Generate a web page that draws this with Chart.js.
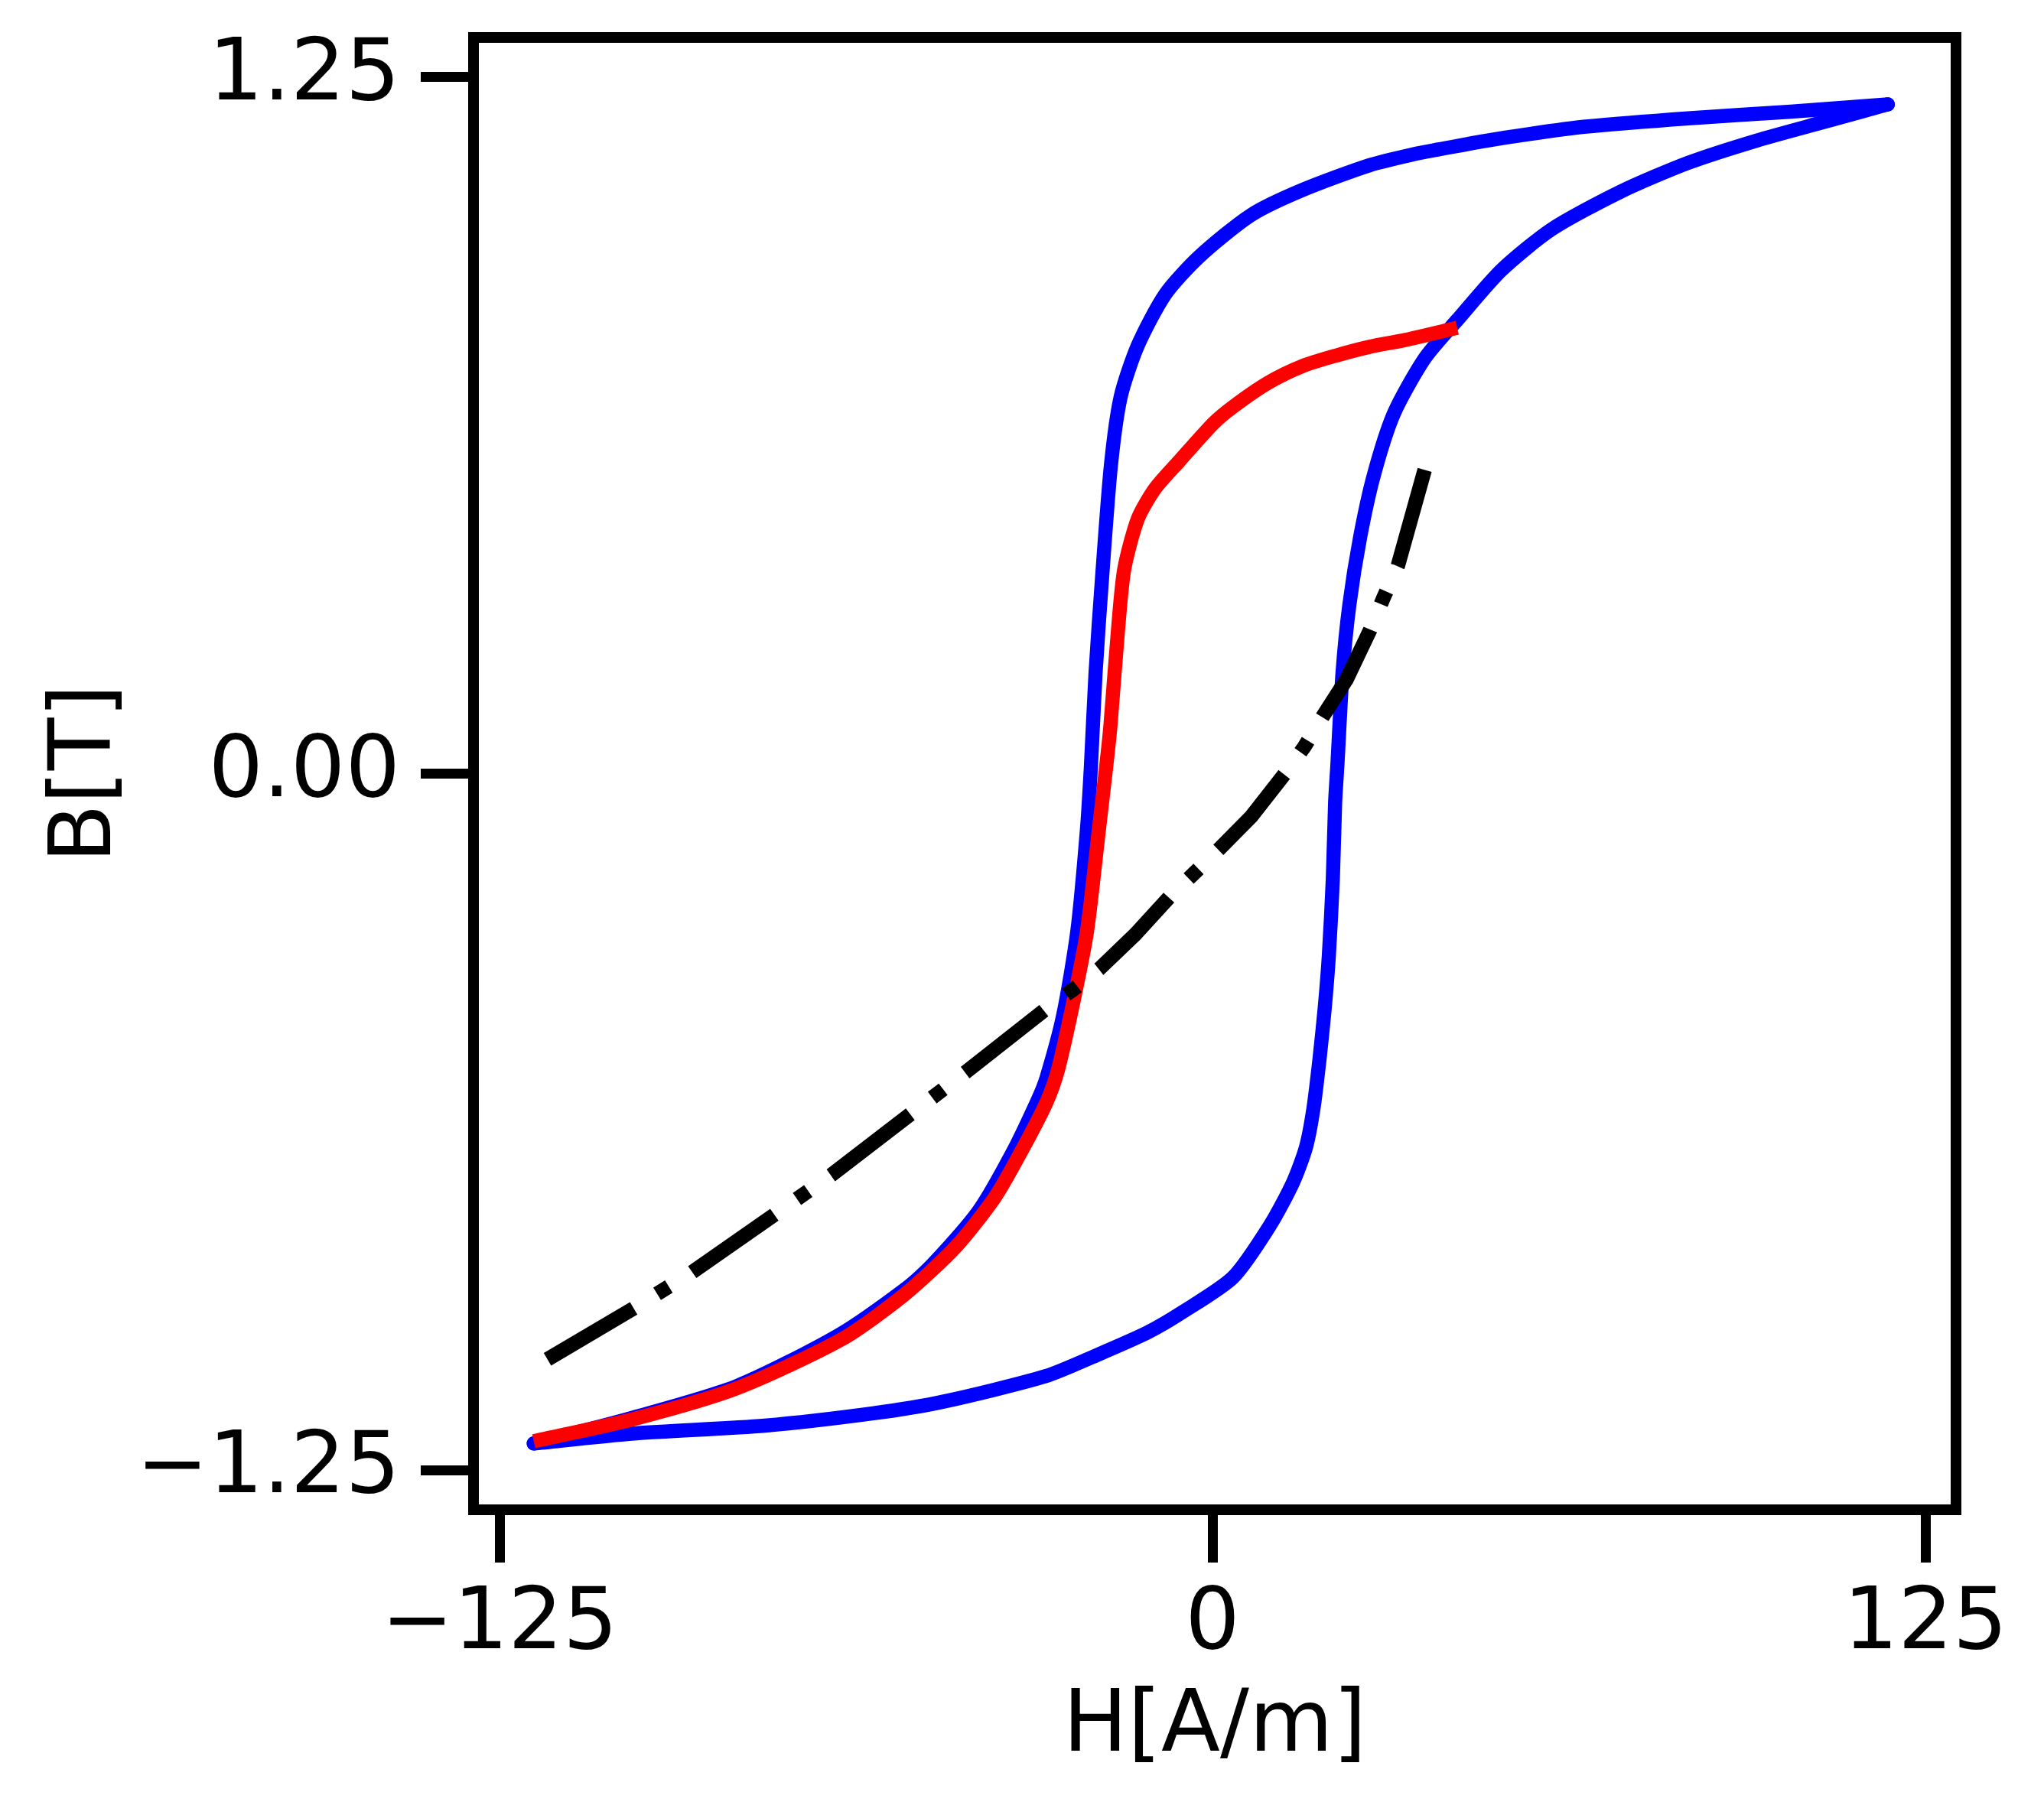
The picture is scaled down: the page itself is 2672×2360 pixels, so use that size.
<!DOCTYPE html>
<html>
<head>
<meta charset="utf-8">
<script src="https://cdn.jsdelivr.net/npm/chart.js@4/dist/chart.umd.min.js"></script>
<style>
  html, body { margin: 0; padding: 0; background: #fff; }
  #wrap { width: 2672px; height: 2360px; }
</style>
</head>
<body>
<div id="wrap"><canvas id="loop" width="2672" height="2360"></canvas></div>
<script>
// hysteresis loop: H[A/m] vs B[T]

// outer loop (blue), rising branch
const blueUpH = [-119.0, -101.4, -78.5, -59.5, -47.2, -29.2, -20.4, -11.4, -5.2, 3.6, 10.0, 14.1, 16.4, 17.7, 18.8, 19.7, 20.4, 21.1, 21.5, 21.9, 22.8, 24.0, 25.9, 28.3, 31.8, 37.2, 43.0, 50.6, 59.5, 71.5, 83.4, 95.4, 107.4, 118.4];
const blueUpB = [-1.202, -1.184, -1.170, -1.148, -1.127, -1.081, -1.044, -1.003, -0.966, -0.904, -0.812, -0.734, -0.670, -0.601, -0.509, -0.418, -0.327, -0.189, -0.052, 0.016, 0.181, 0.303, 0.425, 0.536, 0.646, 0.745, 0.815, 0.903, 0.977, 1.044, 1.096, 1.136, 1.170, 1.201];
// outer loop (blue), falling branch
const blueDownH = [118.4, 101.4, 83.4, 65.5, 55.7, 47.5, 39.6, 35.5, 27.6, 15.7, 6.7, -2.3, -8.3, -13.1, -16.1, -17.8, -19.3, -20.5, -21.3, -22.0, -23.7, -26.2, -29.1, -30.6, -35.1, -41.0, -49.0, -53.5, -65.6, -83.4, -101.4, -119.0];
const blueDownB = [1.201, 1.188, 1.176, 1.161, 1.148, 1.135, 1.120, 1.112, 1.092, 1.047, 1.002, 0.928, 0.860, 0.768, 0.676, 0.554, 0.360, 0.181, 0.016, -0.099, -0.283, -0.435, -0.546, -0.585, -0.681, -0.785, -0.880, -0.922, -1.008, -1.099, -1.155, -1.202];

// inner branch (red)
const redH = [-119.0, -101.4, -83.4, -65.0, -53.9, -44.9, -38.2, -33.8, -29.2, -27.1, -24.3, -22.0, -19.9, -18.6, -17.9, -16.7, -15.5, -13.1, -10.1, -5.9, 0.1, 3.7, 9.7, 15.7, 21.6, 27.6, 33.7, 42.9];
const redB = [-1.198, -1.158, -1.103, -1.015, -0.934, -0.848, -0.761, -0.683, -0.592, -0.532, -0.405, -0.283, -0.099, 0.016, 0.085, 0.241, 0.365, 0.457, 0.511, 0.560, 0.628, 0.659, 0.701, 0.731, 0.750, 0.766, 0.778, 0.800];

// dash-dot curve (black)
const blackH = [-116.6, -101.4, -91.3, -76.6, -66.8, -52.7, -43.3, -29.4, -24.5, -19.8, -13.5, -7.5, 1.1, 6.8, 12.7, 16.1, 19.3, 23.5, 27.6, 30.0, 32.5, 37.2];
const blackB = [-1.051, -0.959, -0.895, -0.790, -0.720, -0.609, -0.536, -0.424, -0.388, -0.350, -0.288, -0.221, -0.136, -0.077, 0.000, 0.048, 0.102, 0.169, 0.257, 0.316, 0.373, 0.545];

const xTicks = [-125, 0, 125];
const xTickLabels = ["\u2212125", "0", "125"];
const yTicks = [-1.25, 0, 1.25];
const yTickLabels = ["\u22121.25", "0.00", "1.25"];

const pts = (xs, ys) => xs.map((x, i) => ({ x: x, y: ys[i] }));

Chart.defaults.font.family = "'DejaVu Sans', sans-serif";
Chart.defaults.color = "#000";

// full box round the plot, like the spines
const frame = {
  id: "frame",
  afterDatasetsDraw(chart) {
    const a = chart.chartArea;
    const ctx = chart.ctx;
    ctx.save();
    ctx.strokeStyle = "#000";
    ctx.lineWidth = 14;
    ctx.lineJoin = "miter";
    ctx.strokeRect(a.left, a.top, a.right - a.left, a.bottom - a.top);
    ctx.restore();
  }
};

const tickFont = { size: 112.5 };

function line(data, color, extra) {
  return Object.assign({
    data: data,
    showLine: true,
    borderColor: color,
    borderWidth: 18.5,
    borderCapStyle: "butt",
    borderJoinStyle: "round",
    pointRadius: 0,
    tension: 0.25
  }, extra);
}

new Chart(document.getElementById("loop"), {
  type: "scatter",
  data: {
    datasets: [
      line(pts(blackH, blackB), "#000", { borderWidth: 19, borderDash: [131, 36, 18, 36], tension: 0, order: 1 }),
      line(pts(redH, redB), "#ff0000", { order: 2 }),
      line(pts(blueUpH, blueUpB), "#0000ff", { borderCapStyle: "round", order: 3 }),
      line(pts(blueDownH, blueDownB), "#0000ff", { borderCapStyle: "round", order: 4 })
    ]
  },
  options: {
    responsive: false,
    animation: false,
    devicePixelRatio: 1,
    layout: { padding: { top: 49, right: 115, bottom: 0, left: 0 } },
    plugins: { legend: { display: false }, tooltip: { enabled: false } },
    scales: {
      x: {
        type: "linear",
        min: -129.56,
        max: 130.36,
        afterBuildTicks: s => { s.ticks = xTicks.map(v => ({ value: v })); },
        afterFit: s => { s.height = 386; s.paddingLeft = 0; s.paddingRight = 0; },
        ticks: {
          autoSkip: false,
          maxRotation: 0,
          padding: 15,
          font: tickFont,
          callback: (v, i) => xTickLabels[i]
        },
        grid: { drawOnChartArea: false, drawTicks: true, tickLength: 69, lineWidth: 13, color: "#000" },
        border: { display: true, width: 14, color: "#000" },
        title: { display: true, text: "H[A/m]", font: tickFont, padding: { top: 0, bottom: 33 } }
      },
      y: {
        type: "linear",
        min: -1.321,
        max: 1.321,
        afterBuildTicks: s => { s.ticks = yTicks.map(v => ({ value: v })); },
        afterFit: s => { s.width = 619; s.paddingTop = 0; s.paddingBottom = 0; },
        ticks: {
          autoSkip: false,
          padding: 27,
          font: tickFont,
          callback: (v, i) => yTickLabels[i]
        },
        grid: { drawOnChartArea: false, drawTicks: true, tickLength: 69, lineWidth: 13, color: "#000" },
        border: { display: true, width: 14, color: "#000" },
        title: { display: true, text: "B[T]", font: tickFont, padding: { top: 47, bottom: 0 } }
      }
    }
  },
  plugins: [frame]
});
</script>
</body>
</html>
